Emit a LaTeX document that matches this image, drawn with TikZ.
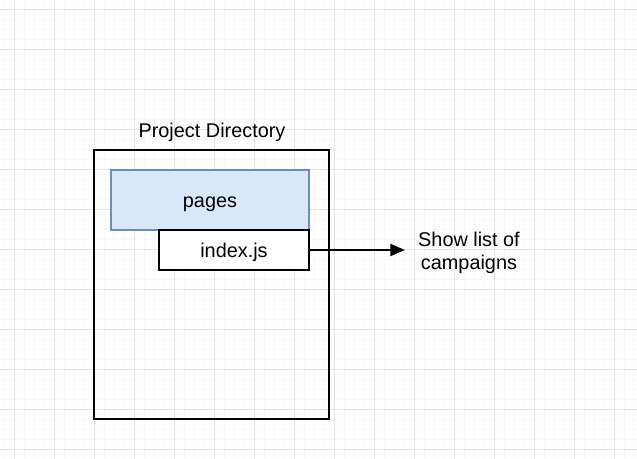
\documentclass[tikz,border=0pt]{standalone}
\usepackage{fontspec}
\setmainfont{Liberation Sans}
\usetikzlibrary{arrows.meta}

\definecolor{gridminor}{HTML}{F8F8F8}
\definecolor{gridmajor}{HTML}{E2E2E2}
\definecolor{pagefill}{HTML}{DAE8FC}
\definecolor{pagedraw}{HTML}{6C8EBF}

\begin{document}
\begin{tikzpicture}[x=0.75pt, y=-0.75pt,
        box/.style={draw, line width=1.5pt, inner sep=0pt, text height=11pt, text depth=0pt},
        label/.style={font=\fontsize{14.9}{17}\selectfont, align=center}]
        % Background grid
        \useasboundingbox (0,0) rectangle (637,459);
        \foreach \x in {4,14,...,634} \draw[gridminor, line width=0.75pt] (\x,0) -- (\x,459);
        \foreach \y in {0,10,...,450} \draw[gridminor, line width=0.75pt] (0,\y) -- (637,\y);
        \foreach \x in {14,54,...,634} \draw[gridmajor, line width=0.75pt] (\x,0) -- (\x,459);
        \foreach \y in {10,50,...,450} \draw[gridmajor, line width=0.75pt] (0,\y) -- (637,\y);

        % Define the boxes
        \node[box, minimum width=176.25pt, minimum height=201.75pt] (project) at (211.5,284.5) {};
        \node[label] (title) at (212,132) {Project Directory};
        \node[box, draw=pagedraw, fill=pagefill, minimum width=148.5pt, minimum height=45pt, label] (pages) at (210,200) {pages};
        \node[box, fill=white, minimum width=112.5pt, minimum height=30pt, label] (index) at (234,250) {index.js};

        % Define the edges
        \node[label] (campaigns) at (469,253) {Show list of\\campaigns};
        \coordinate (tip) at (405,250);
        \draw[line width=1.5pt, -{Triangle[length=11pt, width=9pt]}] (index.east) -- (tip);
\end{tikzpicture}
\end{document}
